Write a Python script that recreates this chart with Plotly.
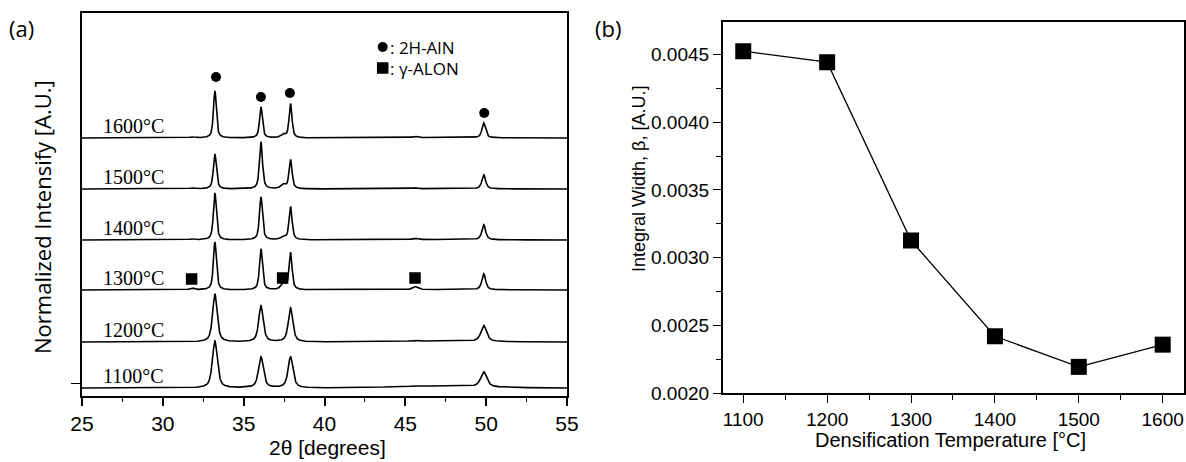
import numpy as np
import plotly.graph_objects as go

W, H = 1186, 462

# ---------------- Panel (a): XRD patterns ----------------
temps_a = ["1100°C", "1200°C", "1300°C", "1400°C", "1500°C", "1600°C"]
baselines = [8, 54, 106, 156, 207, 258]          # vertical offset of each pattern (A.U.)
main_pos = [33.22, 36.07, 37.90, 49.85]          # 2H-AlN peaks (deg)
main_h = [                                        # peak heights per temperature (A.U.)
    [47, 31, 31, 15],
    [48, 36, 34, 16],
    [48, 41, 37, 16],
    [47, 43, 33, 15],
    [35, 47, 29, 14],
    [47, 31, 34, 15],
]
fwhm = [0.36, 0.33, 0.22, 0.22, 0.22, 0.21]      # peak widths per temperature (deg)
minor_pos = [31.80, 37.45, 45.60]                # gamma-ALON peaks (deg)
minor_h = [
    [0.0, 0.0, 0.6],
    [0.0, 0.0, 1.0],
    [2.0, 6.0, 3.0],
    [1.0, 3.0, 1.5],
    [1.0, 4.0, 1.0],
    [1.0, 3.0, 1.5],
]
hump_h = [2.0, 1.0, 0.5, 0.5, 0.3, 0.3]          # broad background hump near 47 deg

aln_mark_x = [33.29, 36.07, 37.86, 49.88]
aln_mark_y = [319, 299, 303, 283]
alon_mark_x = [31.78, 37.41, 45.60]
alon_mark_y = [117, 118, 118]
label_dy = 12

# ---------------- Panel (b): integral width ----------------
temp_b = [1100, 1200, 1300, 1400, 1500, 1600]
beta = [0.004524, 0.004443, 0.003126, 0.002419, 0.002193, 0.002357]


def px(p):
    return p / W


def py(p):
    return 1 - p / H


def profile(x, pos, h, w):
    eta = 0.65
    g = np.exp(-4 * np.log(2) * ((x - pos) / w) ** 2)
    l = 1.0 / (1.0 + 4 * ((x - pos) / w) ** 2)
    return h * (eta * l + (1 - eta) * g)


x = np.linspace(25, 55, 3001)
fig = go.Figure()

for i, t in enumerate(temps_a):
    y = np.full_like(x, float(baselines[i]))
    for p, hh in zip(main_pos, main_h[i]):
        y += profile(x, p, hh, fwhm[i] * (1.25 if p > 45 else 1.0))
    for p, hh in zip(minor_pos, minor_h[i]):
        y += profile(x, p, hh, 0.35)
    y += hump_h[i] * np.exp(-((x - 47.0) / 4.0) ** 2)
    fig.add_trace(go.Scatter(x=x, y=y, mode="lines", line=dict(color="black", width=1.6),
                             xaxis="x", yaxis="y", showlegend=False, hoverinfo="skip"))
    fig.add_annotation(x=28.2, y=baselines[i] + label_dy, xref="x", yref="y", text=t,
                       showarrow=False, font=dict(family="Liberation Serif, Times New Roman", size=20, color="black"))

fig.add_trace(go.Scatter(x=aln_mark_x, y=aln_mark_y, mode="markers",
                         marker=dict(symbol="circle", size=10, color="black"),
                         xaxis="x", yaxis="y", showlegend=False))
fig.add_trace(go.Scatter(x=alon_mark_x, y=alon_mark_y, mode="markers",
                         marker=dict(symbol="square", size=10, color="black", line=dict(width=1.5, color="black")),
                         xaxis="x", yaxis="y", showlegend=False))

# legend of phases
fig.add_trace(go.Scatter(x=[43.6], y=[349], mode="markers",
                         marker=dict(symbol="circle", size=10, color="black"),
                         xaxis="x", yaxis="y", showlegend=False))
fig.add_trace(go.Scatter(x=[43.6], y=[328], mode="markers",
                         marker=dict(symbol="square", size=10, color="black", line=dict(width=1.5, color="black")),
                         xaxis="x", yaxis="y", showlegend=False))
fig.add_annotation(x=43.9, y=349, xref="x", yref="y", text=": 2H-AlN", xanchor="left", showarrow=False,
                   font=dict(family="Open Sans", size=17, color="black"))
fig.add_annotation(x=43.9, y=328, xref="x", yref="y", text=": γ-ALON", xanchor="left", showarrow=False,
                   font=dict(family="Open Sans", size=17, color="black"))

# panel (b)
fig.add_trace(go.Scatter(x=temp_b, y=beta, mode="lines+markers",
                         line=dict(color="black", width=1.3),
                         marker=dict(symbol="square", size=16, color="black"),
                         xaxis="x2", yaxis="y2", showlegend=False))

ax_common = dict(showline=True, linecolor="black", linewidth=1.5, mirror=True, automargin=False,
                 showgrid=False, zeroline=False, ticks="outside", tickcolor="black")

fig.update_layout(
    template="none",
    width=W, height=H, margin=dict(l=0, r=0, t=0, b=0, pad=0, autoexpand=False),
    paper_bgcolor="white", plot_bgcolor="white",
    xaxis=dict(domain=[px(82), px(567)], range=[25, 55], dtick=5, tick0=25,
               ticklen=8, tickwidth=1.5,
               tickfont=dict(family="Liberation Sans, Arial", size=21, color="black"),
               minor=dict(ticks="outside", ticklen=4, dtick=2.5, tick0=25, tickcolor="black", tickwidth=1.2),
               anchor="y", **ax_common),
    yaxis=dict(domain=[py(396), py(13)], range=[0, 383], tickvals=[13], ticktext=[""],
               ticklen=9, tickwidth=1.2, anchor="x", **ax_common),
    xaxis2=dict(domain=[px(722.7), px(1184)], range=[1075.5, 1625.4], dtick=100, tick0=1100,
                ticklen=8, tickwidth=1.3,
                tickfont=dict(family="Liberation Sans, Arial", size=19, color="black"),
                minor=dict(ticks="outside", ticklen=5, dtick=50, tick0=1050, tickcolor="black", tickwidth=1.2),
                anchor="y2", **ax_common),
    yaxis2=dict(domain=[py(393), py(21.7)], range=[0.0020, 0.004742], dtick=0.0005, tick0=0.002,
                tickformat=".4f", ticklen=8, tickwidth=1.3,
                tickfont=dict(family="Liberation Sans, Arial", size=19, color="black"),
                minor=dict(ticks="outside", ticklen=5, dtick=0.00025, tick0=0.002, tickcolor="black", tickwidth=1.2),
                anchor="x2", **ax_common),
)


def pa(xp, yp, text, size, family, angle=0):
    fig.add_annotation(x=px(xp), y=py(yp), xref="paper", yref="paper", text=text, showarrow=False,
                       textangle=angle, xanchor="center", yanchor="middle",
                       font=dict(family=family, size=size, color="black"))


pa(21, 28, "(a)", 22, "Open Sans")
pa(608, 28, "(b)", 22, "Open Sans")
pa(42, 217, "Normalized Intensify [A.U.]", 22, "Open Sans", -90)
pa(327, 447, "2θ [degrees]", 21, "Liberation Sans, Arial")
pa(639, 179, "Integral Width, β, [A.U.]", 18, "Liberation Sans, Arial", -90)
pa(950, 440, "Densification Temperature [°C]", 20, "Liberation Sans, Arial")

fig.write_html("out.html", config={"displayModeBar": False},
               post_script="document.body.style.margin='0';document.body.style.overflow='hidden';")
